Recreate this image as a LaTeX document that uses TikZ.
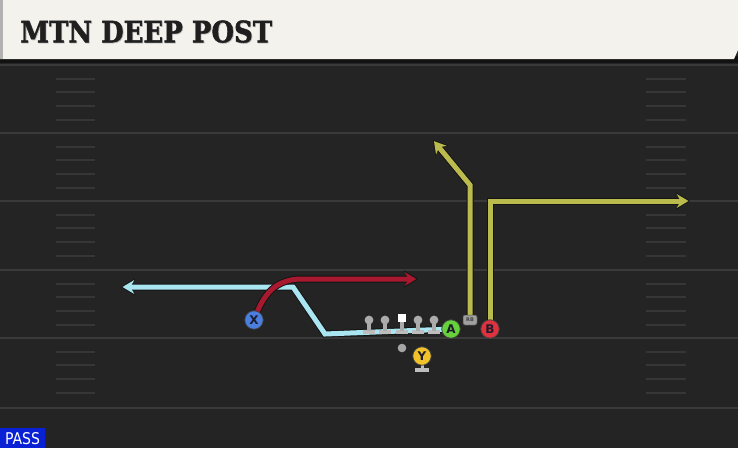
\documentclass[tikz,border=0pt]{standalone}
\usepackage{fontspec}
\usepackage{graphicx}
\usetikzlibrary{arrows.meta}
\newfontfamily\titlefont{DejaVu Serif}[BoldFeatures={FakeBold=1.5}]
\newfontfamily\lblfont{DejaVu Sans}
\definecolor{bg}{HTML}{242424}
\definecolor{yardc}{HTML}{3A3A3A}
\definecolor{hashc}{HTML}{363636}
\definecolor{cream}{HTML}{F4F2EC}
\definecolor{routeblue}{HTML}{A9E6F2}
\definecolor{routered}{HTML}{A8182E}
\definecolor{routeyel}{HTML}{BABB4C}
\definecolor{pblue}{HTML}{4A7FE0}
\definecolor{pgreen}{HTML}{66D23A}
\definecolor{pred}{HTML}{E0323E}
\definecolor{pyel}{HTML}{F2C22A}
\definecolor{olgray}{HTML}{ABABAB}
\definecolor{olbase}{HTML}{BDBDBD}
\definecolor{passblue}{HTML}{0A20D4}
\definecolor{txtdark}{HTML}{1C1C2C}
\pgfdeclarelayer{bgl}
\pgfdeclarelayer{routes}
\pgfsetlayers{bgl,routes,main}
\tikzset{
  yard/.style={draw=yardc, line width=2pt},
  hashmark/.style={draw=hashc, line width=2pt},
  outl/.style={draw=black!92, line width=7pt, line join=miter,
    -{Stealth[length=14pt,width=17pt,inset=4.5pt]}},
  rt/.style={draw=#1, line width=5pt, line join=miter, shorten >=1.5pt,
    -{Stealth[length=11.5pt,width=13.5pt,inset=3.5pt]}},
  player/.style={circle, draw=black!75, line width=0.8pt, minimum size=18.5pt,
    inner sep=0pt, text=txtdark, font=\lblfont\bfseries\fontsize{12}{12}\selectfont},
  rbbox/.style={rounded corners=2pt, fill=gray!75, draw=black!70, line width=0.5pt,
    minimum width=14pt, minimum height=10pt, inner sep=0pt, text=black!75,
    font=\lblfont\bfseries\fontsize{5}{5}\selectfont},
}
\newcommand\routepath[2]{\draw[outl] #2; \draw[rt=#1] #2;}
\begin{document}
\begin{tikzpicture}[x=1pt,y=-1pt]
\useasboundingbox (0,0) rectangle (738,448);
\begin{pgfonlayer}{bgl}
\fill[bg] (0,0) rectangle (738,448);
\foreach \y in {65,133,201,270,338,408} \draw[yard] (0,\y) -- (738,\y);
\foreach \y in {65,133,201,270,338}
  \foreach \o in {14,27,41,55} {
    \draw[hashmark] (56,\y+\o) -- (95,\y+\o);
    \draw[hashmark] (646,\y+\o) -- (686,\y+\o);
  }
% title bar
\fill[black!93] (0,56) rectangle (738,63);
\fill[cream] (0,0) -- (738,0) -- (738,50) -- (734,59) -- (0,59) -- cycle;
\fill[gray!60] (0,0) rectangle (3,59);
\end{pgfonlayer}
\node[anchor=south west, inner sep=0pt, text=gray!55] (titleshadow) at (20.8,43.8)
  {\resizebox{252pt}{22pt}{\titlefont\bfseries MTN DEEP POST}};
\node[anchor=south west, inner sep=0pt, text=black!88] (title) at (20,43)
  {\resizebox{252pt}{22pt}{\titlefont\bfseries MTN DEEP POST}};
% pass label
\fill[passblue] (0,428) rectangle (45,448);
\node[inner sep=0pt, text=white] (pass) at (22.5,438.3)
  {\resizebox{35pt}{12pt}{\lblfont PASS}};
% offensive line
\foreach \x in {369,385,418,434} {
  \fill[olbase] (\x-6,330) rectangle (\x+6,333.5);
  \fill[olgray] (\x-1.6,320) rectangle (\x+1.6,331);
  \fill[olgray] (\x,320) circle (4.4);
}
\fill[olbase] (396,330) rectangle (408,333.5);
\fill[olgray] (400.4,318) rectangle (403.6,331);
\fill[white] (398,314) rectangle (406,322);
% QB dot
\fill[gray!70] (402,348) circle (4.3);
% Y base
\fill[olbase] (420.5,364) rectangle (423.5,369);
\fill[olbase] (415,368) rectangle (429,371.5);
% players
\node[player, fill=pblue] (X) at (254,320) {X};
\node[player, fill=pgreen] (A) at (451,329) {A};
\node[player, fill=pred] (B) at (490,329) {B};
\node[player, fill=pyel] (Y) at (422,356) {Y};
\node[rbbox] (RB) at (470,320) {RB};
% routes
\coordinate (redend) at (418,279);
\coordinate (blueend) at (121,287);
\coordinate (rbend) at (433,140);
\coordinate (bend) at (690,201);
\begin{pgfonlayer}{routes}
\routepath{routeblue}{(A.center) -- (325,334) -- (293,287) -- (blueend)}
\routepath{routered}{(X.center) .. controls (262,298) and (272,281) .. (298,279) -- (redend)}
\routepath{routeyel}{(RB.center) -- (470,185) -- (rbend)}
\routepath{routeyel}{(B.center) -- (490,201) -- (bend)}
\end{pgfonlayer}
\end{tikzpicture}
\end{document}
